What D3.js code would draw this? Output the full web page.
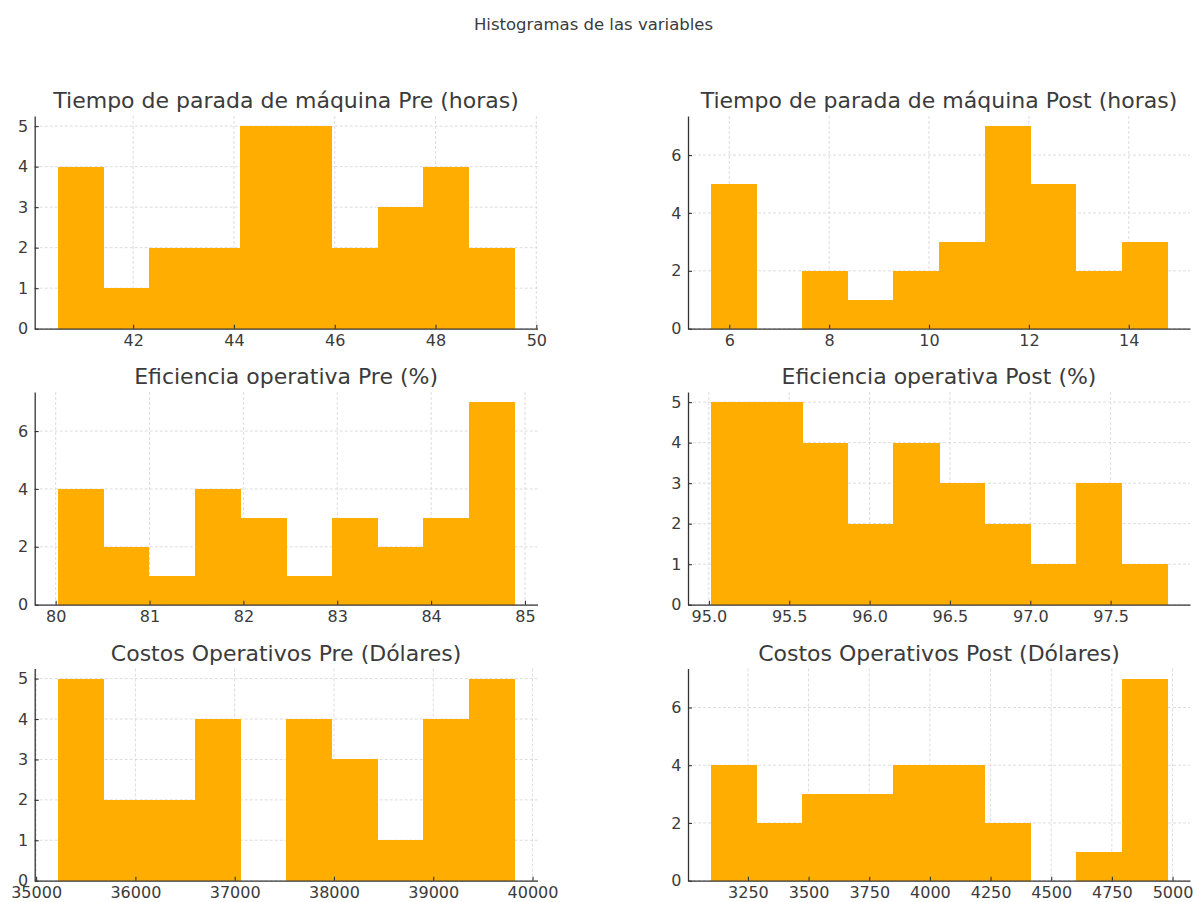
<!DOCTYPE html>
<html>
<head>
<meta charset="utf-8">
<script src="https://cdn.jsdelivr.net/npm/d3@7"></script>
<style>
  html, body { margin: 0; padding: 0; background: #ffffff; }
  svg { display: block; font-family: "DejaVu Sans", sans-serif; }
</style>
</head>
<body>
<svg id="chart" width="1197" height="902"></svg>
<script>
// Histogram panels: titles, bin ranges (10 equal bins each) and counts per bin
const titles = [
  "Tiempo de parada de máquina Pre (horas)",
  "Tiempo de parada de máquina Post (horas)",
  "Eficiencia operativa Pre (%)",
  "Eficiencia operativa Post (%)",
  "Costos Operativos Pre (Dólares)",
  "Costos Operativos Post (Dólares)"
];
const binStart = [40.50, 5.63, 80.02, 95.012, 35216, 3097];
const binEnd   = [49.57, 14.77, 84.89, 97.852, 39820, 4978];

const countsTiempoPre   = [4, 1, 2, 2, 5, 5, 2, 3, 4, 2];
const countsTiempoPost  = [5, 0, 2, 1, 2, 3, 7, 5, 2, 3];
const countsEficPre     = [4, 2, 1, 4, 3, 1, 3, 2, 3, 7];
const countsEficPost    = [5, 5, 4, 2, 4, 3, 2, 1, 3, 1];
const countsCostosPre   = [5, 2, 2, 4, 0, 4, 3, 1, 4, 5];
const countsCostosPost  = [4, 2, 3, 3, 4, 4, 2, 0, 1, 7];
const counts = [countsTiempoPre, countsTiempoPost, countsEficPre, countsEficPost, countsCostosPre, countsCostosPost];

const xTickLabels = [
  ["42", "44", "46", "48", "50"],
  ["6", "8", "10", "12", "14"],
  ["80", "81", "82", "83", "84", "85"],
  ["95.0", "95.5", "96.0", "96.5", "97.0", "97.5"],
  ["35000", "36000", "37000", "38000", "39000", "40000"],
  ["3250", "3500", "3750", "4000", "4250", "4500", "4750", "5000"]
];
const yTickLabels = [
  ["0", "1", "2", "3", "4", "5"],
  ["0", "2", "4", "6"],
  ["0", "2", "4", "6"],
  ["0", "1", "2", "3", "4", "5"],
  ["0", "1", "2", "3", "4", "5"],
  ["0", "2", "4", "6"]
];
const suptitle = "Histogramas de las variables";

// Layout of the 3x2 grid of axes
const colX = [[34.7, 537.5], [688, 1190]];
const rowY = [[116, 328.7], [392, 604.7], [668.5, 880.7]];

const barColor = "#ffae00";
const textColor = "#3b3b3b";
const spineColor = "#333333";
const gridColor = "#d4d4d4";

const svg = d3.select("#chart");

svg.append("text")
  .attr("x", 593.5).attr("y", 30)
  .attr("text-anchor", "middle")
  .attr("font-size", 16.5)
  .attr("fill", textColor)
  .text(suptitle);

titles.forEach((title, i) => {
  const col = i % 2, row = Math.floor(i / 2);
  const [x0, x1] = colX[col];
  const [y0, y1] = rowY[row];
  const lo = binStart[i], hi = binEnd[i];
  const nb = counts[i].length;
  const w = (hi - lo) / nb;
  const edges = d3.range(nb + 1).map(k => lo + k * w);
  const pad = 0.05 * (hi - lo);
  const x = d3.scaleLinear().domain([lo - pad, hi + pad]).range([x0, x1]);
  const maxC = d3.max(counts[i]);
  const y = d3.scaleLinear().domain([0, maxC * 1.05]).range([y1, y0]);

  const xt = xTickLabels[i].map(Number);
  const yt = yTickLabels[i].map(Number);

  const g = svg.append("g");

  // dashed grid behind the bars
  g.append("g").selectAll("line").data(xt).join("line")
    .attr("x1", d => x(d)).attr("x2", d => x(d))
    .attr("y1", y0).attr("y2", y1)
    .attr("stroke", gridColor).attr("stroke-width", 0.8)
    .attr("stroke-dasharray", "3,2");
  g.append("g").selectAll("line").data(yt).join("line")
    .attr("x1", x0).attr("x2", x1)
    .attr("y1", d => y(d)).attr("y2", d => y(d))
    .attr("stroke", gridColor).attr("stroke-width", 0.8)
    .attr("stroke-dasharray", "3,2");

  // bars (crisp edges so neighbouring bins of equal height join without a seam)
  g.append("g").attr("shape-rendering", "crispEdges")
    .selectAll("rect").data(counts[i].map((c, k) => ({c, a: edges[k], b: edges[k + 1]})))
    .join("rect")
    .attr("x", d => x(d.a))
    .attr("width", d => x(d.b) - x(d.a) + 0.5)
    .attr("y", d => y(d.c))
    .attr("height", d => y(0) - y(d.c))
    .attr("fill", barColor);

  // axes
  const xAxis = d3.axisBottom(x).tickValues(xt)
    .tickFormat((d, k) => xTickLabels[i][k])
    .tickSizeInner(-4).tickSizeOuter(0).tickPadding(10);
  const yAxis = d3.axisLeft(y).tickValues(yt)
    .tickFormat((d, k) => yTickLabels[i][k])
    .tickSizeInner(-4).tickSizeOuter(0).tickPadding(10);

  const gx = g.append("g").attr("transform", `translate(0,${y1})`).call(xAxis);
  const gy = g.append("g").attr("transform", `translate(${x0},0)`).call(yAxis);

  [gx, gy].forEach(a => {
    a.select(".domain").attr("stroke", spineColor).attr("stroke-width", 1.3);
    a.selectAll(".tick line").attr("stroke", spineColor).attr("stroke-width", 1.1);
    a.selectAll(".tick text")
      .attr("fill", textColor)
      .attr("font-size", 16)
      .attr("font-family", "DejaVu Sans, sans-serif");
  });
  gx.selectAll(".tick text").attr("dy", "0.65em").attr("y", 6.5);
  gy.selectAll(".tick text").attr("x", -6.5);

  // panel title
  g.append("text")
    .attr("x", (x0 + x1) / 2).attr("y", y0 - 8)
    .attr("text-anchor", "middle")
    .attr("font-size", 22)
    .attr("fill", textColor)
    .text(title);
});
</script>
</body>
</html>
